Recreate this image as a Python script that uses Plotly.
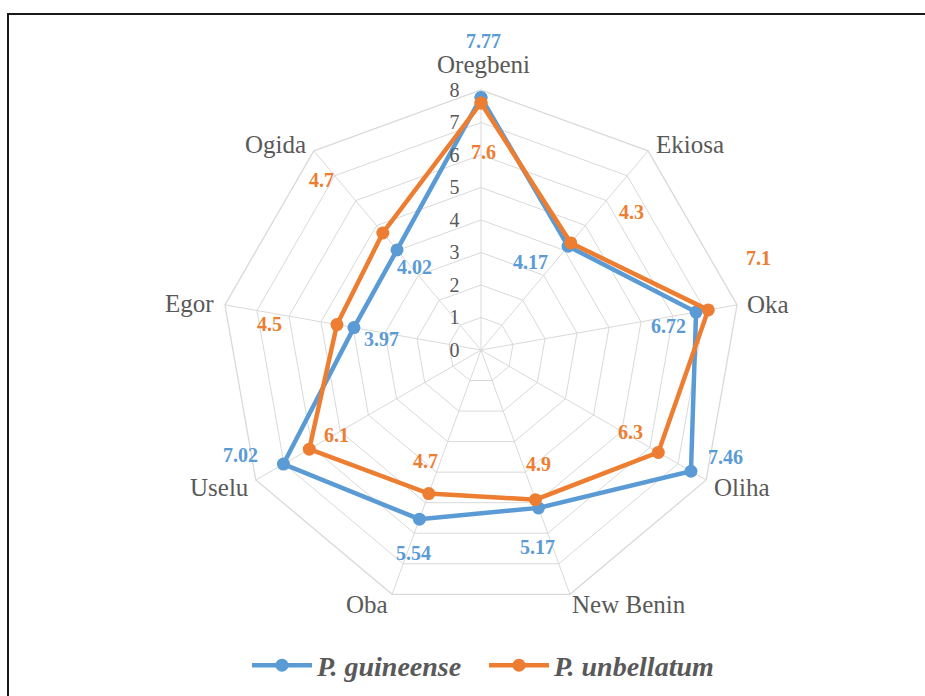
import math
import plotly.graph_objects as go

categories = ["Oregbeni", "Ekiosa", "Oka", "Oliha", "New Benin", "Oba", "Uselu", "Egor", "Ogida"]
guineense = [7.77, 4.17, 6.72, 7.46, 5.17, 5.54, 7.02, 3.97, 4.02]
unbellatum = [7.6, 4.3, 7.1, 6.3, 4.9, 4.7, 6.1, 4.5, 4.7]
radial_ticks = [0, 1, 2, 3, 4, 5, 6, 7, 8]

# label pixel offsets relative to each point (dx right, dy down)
g_off = [(2, -56), (-38, 16), (-28, 14), (35, -14), (-1, 39), (-6, 34), (-43, -9), (28, 11), (17, 17)]
u_off = [(2, 49), (61, -31), (50, -52), (-28, -20), (3, -36), (-3, -33), (27, -14), (-67, -1), (-61, -53)]
# category label offsets relative to the outer vertex
c_off = [(2, -25), (42, -6), (31, 0), (36, 7), (59, 10), (-25, 10), (-36, 7), (-35, -1), (-38, -6)]

W, H = 925, 696
BLUE = "#5B9BD5"
ORANGE = "#ED7D31"
GRID = "#D9D9D9"
TXT = "#595959"
FONT = "Liberation Serif"

cx, cy, R = 481, 350, 260
dom_x = [(cx - R) / W, (cx + R) / W]
dom_y = [(H - cy - R) / H, (H - cy + R) / H]
rmax = 8
n = len(categories)


def to_paper(v, k):
    ang = math.radians(90 - 360 / n * k)
    px = cx + v / rmax * R * math.cos(ang)
    py = cy - v / rmax * R * math.sin(ang)
    return px / W, 1 - py / H


fig = go.Figure()
for name, vals, col in [("P. guineense", guineense, BLUE), ("P. unbellatum", unbellatum, ORANGE)]:
    fig.add_trace(go.Scatterpolar(
        r=vals + vals[:1], theta=categories + categories[:1],
        mode="lines+markers", name=f"<b><i>{name}</i></b>",
        line=dict(color=col, width=4.5), marker=dict(color=col, size=13),
    ))

annotations = []
for vals, offs, col in [(guineense, g_off, BLUE), (unbellatum, u_off, ORANGE)]:
    for k, (v, (dx, dy)) in enumerate(zip(vals, offs)):
        x, y = to_paper(v, k)
        annotations.append(dict(
            x=x, y=y, xref="paper", yref="paper", xanchor="center", yanchor="middle",
            xshift=dx, yshift=-dy, showarrow=False,
            text=f"<b>{v:g}</b>", font=dict(family=FONT, size=20, color=col),
        ))
for k, (cat, (dx, dy)) in enumerate(zip(categories, c_off)):
    x, y = to_paper(rmax, k)
    annotations.append(dict(
        x=x, y=y, xref="paper", yref="paper", xanchor="center", yanchor="middle",
        xshift=dx, yshift=-dy, showarrow=False,
        text=cat, font=dict(family=FONT, size=25, color=TXT),
    ))

fig.update_layout(
    width=W, height=H, margin=dict(l=0, r=0, t=0, b=0, pad=0, autoexpand=False),
    paper_bgcolor="white", plot_bgcolor="white",
    font=dict(family=FONT, color=TXT),
    polar=dict(
        domain=dict(x=dom_x, y=dom_y),
        bgcolor="white",
        gridshape="linear",
        angularaxis=dict(
            direction="clockwise", rotation=90,
            showline=True, linecolor=GRID, linewidth=1.3,
            gridcolor=GRID, gridwidth=1.3,
            ticks="", showticklabels=False,
        ),
        radialaxis=dict(
            range=[0, rmax], tickvals=radial_ticks, angle=90, tickangle=90,
            side="counterclockwise", showline=False,
            ticks="outside", ticklen=14, tickcolor="rgba(0,0,0,0)",
            gridcolor=GRID, gridwidth=1.3,
            tickfont=dict(family=FONT, size=20, color=TXT),
        ),
    ),
    showlegend=True,
    legend=dict(orientation="h", x=247 / W, xanchor="left", y=0.008, yanchor="bottom",
                font=dict(family=FONT, size=28, color=TXT), itemwidth=60,
                entrywidth=162, entrywidthmode="pixels",
                bgcolor="rgba(0,0,0,0)"),
    annotations=annotations,
    shapes=[dict(type="rect", xref="paper", yref="paper",
                 x0=8 / W, x1=1.05, y0=-0.05, y1=1 - 14 / H,
                 line=dict(color="#1a1a1a", width=2), fillcolor="rgba(0,0,0,0)", layer="below")],
)

fig.write_html("out.html", config={"displayModeBar": False},
               post_script="document.body.style.margin='0';")
